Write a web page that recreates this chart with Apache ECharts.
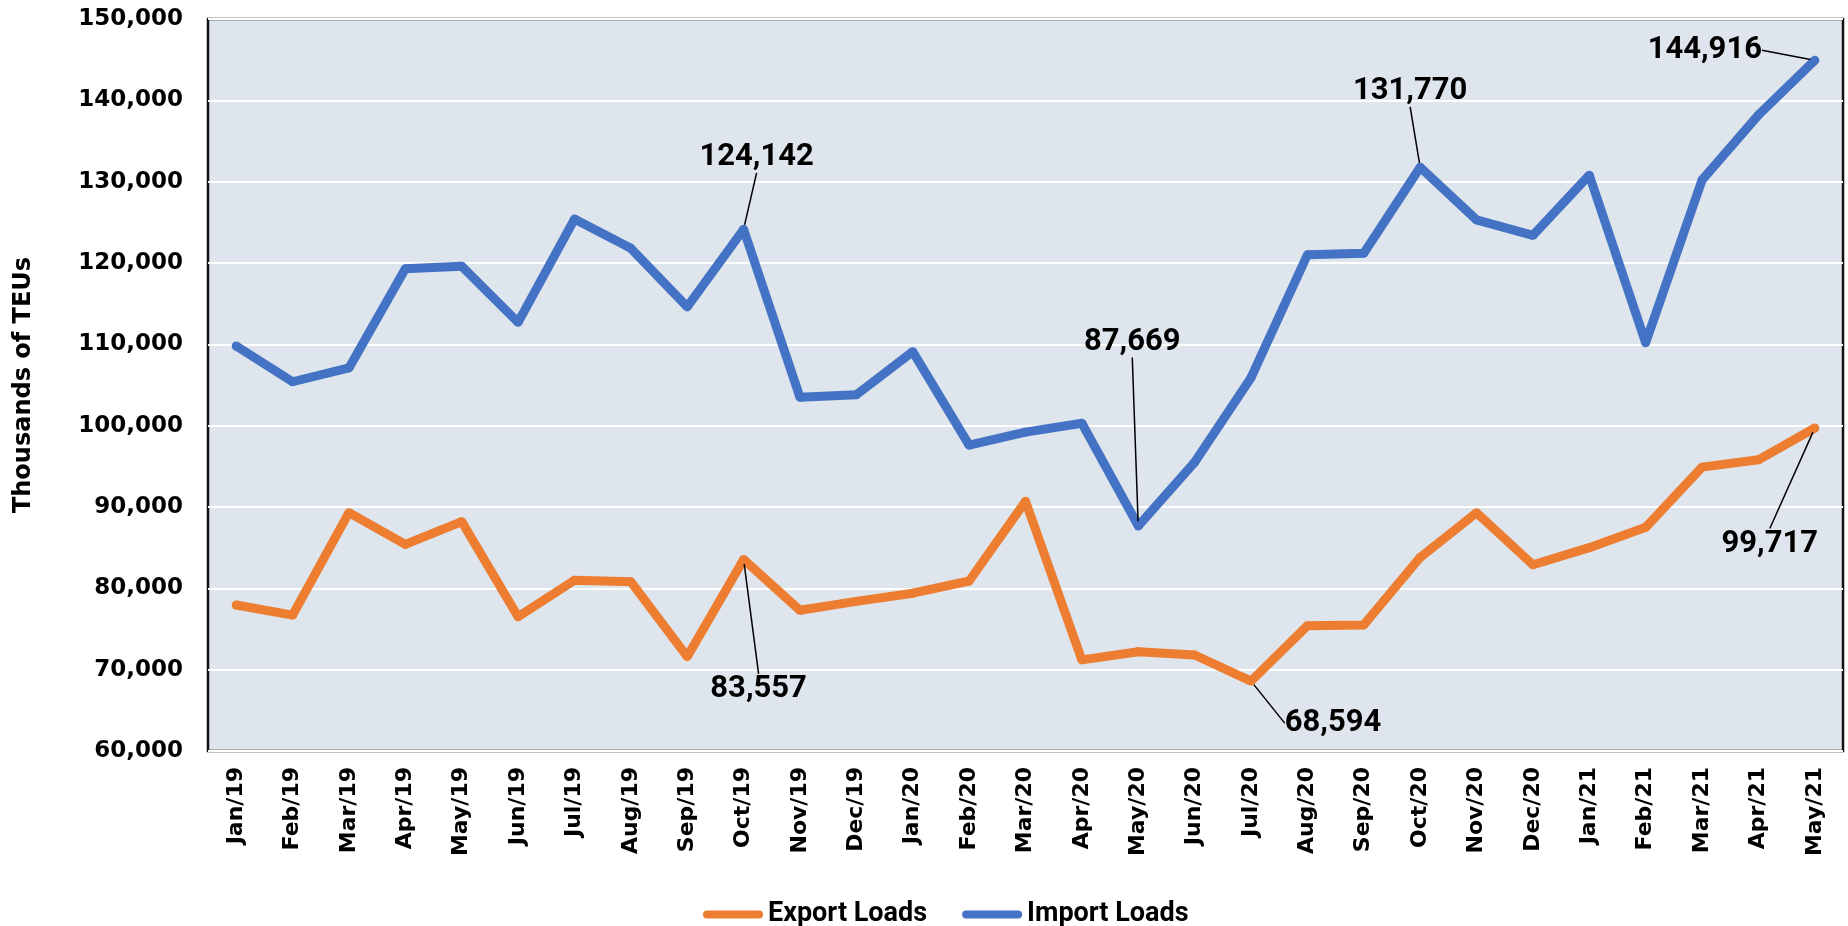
<html>
<head>
<meta charset="UTF-8">
<script src="https://cdn.jsdelivr.net/npm/echarts@6/dist/echarts.min.js"></script>
<style>html,body{margin:0;padding:0;background:#fff;}</style>
</head>
<body>
<div id="main" style="width:1848px;height:926px"></div>
<script>
    var months = ['Jan/19', 'Feb/19', 'Mar/19', 'Apr/19', 'May/19', 'Jun/19', 'Jul/19', 'Aug/19', 'Sep/19', 'Oct/19',
        'Nov/19', 'Dec/19', 'Jan/20', 'Feb/20', 'Mar/20', 'Apr/20', 'May/20', 'Jun/20', 'Jul/20', 'Aug/20',
        'Sep/20', 'Oct/20', 'Nov/20', 'Dec/20', 'Jan/21', 'Feb/21', 'Mar/21', 'Apr/21', 'May/21'];

    var exportLoads = [77950, 76700, 89300, 85400, 88200, 76500, 81000, 80800, 71600, 83557,
        77300, 78400, 79400, 80900, 90700, 71200, 72200, 71800, 68594, 75400,
        75500, 83800, 89300, 82900, 85000, 87500, 94900, 95800, 99717];

    var importLoads = [109800, 105400, 107100, 119300, 119600, 112700, 125400, 121800, 114600, 124142,
        103500, 103800, 109100, 97600, 99200, 100300, 87669, 95500, 105900, 121000,
        121200, 131770, 125300, 123400, 130800, 110200, 130200, 138200, 144916];

    var yMin = 60000, yMax = 150000, yStep = 10000;

    // points that carry a value callout (index into months)
    var importCallouts = [9, 16, 21, 28];
    var exportCallouts = [9, 18, 28];

    // where each callout sits relative to its point, px
    var importOffsets = {9: [13, -72], 16: [-6, -184], 21: [-10, -76], 28: [-110, -10]};
    var exportOffsets = {9: [15, 130], 18: [82, 42], 28: [-45, 116]};

    function fmt(v) {
        return String(v).replace(/\B(?=(\d{3})+(?!\d))/g, ',');
    }

    function buildData(vals, callouts) {
        var out = [];
        for (var i = 0; i < vals.length; i++) {
            if (callouts.indexOf(i) >= 0) {
                out.push({value: vals[i], label: {show: true}, labelLine: {show: true}});
            } else {
                out.push(vals[i]);
            }
        }
        return out;
    }

    var calloutLabel = {
        show: false,
        position: 'inside',
        color: '#000',
        fontFamily: 'Roboto',
        fontWeight: 'bold',
        fontSize: 31,
        formatter: function (p) { return fmt(p.value); }
    };
    var calloutLine = {show: false, lineStyle: {color: '#000', width: 1.5}};

    var chart = echarts.init(document.getElementById('main'));
    var lineIcon = 'path://M4,0 L56,0 A4,4 0 0 1 56,8 L4,8 A4,4 0 0 1 4,0 Z';

    chart.setOption({
        animation: false,
        backgroundColor: '#fff',
        grid: {
            left: 208, top: 19, right: 5, bottom: 175,
            show: true,
            backgroundColor: '#dfe5ec',
            borderColor: '#111',
            borderWidth: 2.5
        },
        legend: {
            left: 698,
            top: 896,
            itemWidth: 60,
            itemHeight: 8,
            itemGap: 35,
            data: [
                {name: 'Export Loads', icon: lineIcon},
                {name: 'Import Loads', icon: lineIcon}
            ],
            textStyle: {fontFamily: 'Roboto', fontWeight: 'bold', fontSize: 27, color: '#000'}
        },
        xAxis: {
            type: 'category',
            data: months,
            axisLine: {show: false},
            axisTick: {show: false},
            axisLabel: {
                interval: 0,
                rotate: 90,
                margin: 16,
                color: '#000',
                fontFamily: 'DejaVu Sans',
                fontWeight: 'bold',
                fontSize: 22
            }
        },
        yAxis: {
            type: 'value',
            min: yMin,
            max: yMax,
            interval: yStep,
            name: 'Thousands of TEUs',
            nameLocation: 'middle',
            nameGap: 172,
            nameTextStyle: {color: '#000', fontFamily: 'DejaVu Sans', fontWeight: 'bold', fontSize: 24},
            axisLine: {show: false},
            axisTick: {show: false},
            splitLine: {lineStyle: {color: '#fff', width: 2}},
            axisLabel: {
                margin: 25,
                color: '#000',
                fontFamily: 'DejaVu Sans',
                fontWeight: 'bold',
                fontSize: 23,
                formatter: function (v) { return fmt(v); }
            }
        },
        series: [
            {
                name: 'Export Loads',
                type: 'line',
                data: buildData(exportLoads, exportCallouts),
                symbol: 'circle',
                symbolSize: 9,
                showSymbol: true,
                lineStyle: {color: '#ed7d31', width: 9},
                itemStyle: {color: '#ed7d31'},
                label: calloutLabel,
                labelLine: calloutLine,
                labelLayout: function (p) {
                    var o = exportOffsets[p.dataIndex];
                    return o ? {dx: o[0], dy: o[1]} : {};
                },
                z: 2
            },
            {
                name: 'Import Loads',
                type: 'line',
                data: buildData(importLoads, importCallouts),
                symbol: 'circle',
                symbolSize: 9,
                showSymbol: true,
                lineStyle: {color: '#4472c4', width: 9},
                itemStyle: {color: '#4472c4'},
                label: calloutLabel,
                labelLine: calloutLine,
                labelLayout: function (p) {
                    var o = importOffsets[p.dataIndex];
                    return o ? {dx: o[0], dy: o[1]} : {};
                },
                z: 3
            }
        ]
    });
</script>
</body>
</html>
